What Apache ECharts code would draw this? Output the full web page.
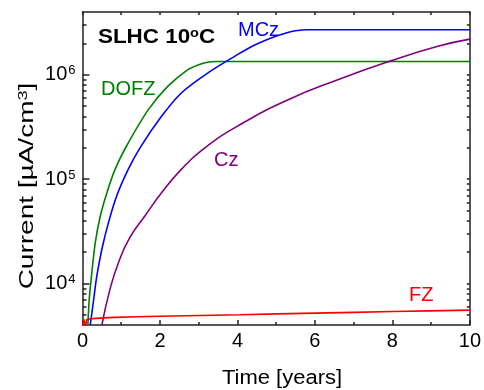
<!DOCTYPE html>
<html>
<head>
<meta charset="utf-8">
<script src="https://cdn.jsdelivr.net/npm/echarts@6/dist/echarts.min.js"></script>
<style>
  html, body {margin: 0; padding: 0; background: #fff;}
  #chart {width: 484px; height: 390px;}
</style>
</head>
<body>
<div id="chart"></div>
<script>
// time [years], current [uA/cm3]
const dofz = [
  [0.14, 4080], [0.174, 7100], [0.24, 12600], [0.33, 24700], [0.46, 44300],
  [0.63, 74000], [0.84, 124000], [1.14, 209000], [1.7, 464000], [2.2, 774000],
  [2.72, 1120000], [3.0, 1250000], [3.23, 1320000], [3.45, 1340000], [4.0, 1340000],
  [10, 1340000]
];
const mcz = [
  [0.2, 4000], [0.29, 7100], [0.37, 11800], [0.5, 21300], [0.67, 38300],
  [0.88, 68700], [1.18, 124000], [1.5, 204000], [2.04, 400000], [2.55, 670000],
  [3.23, 1040000], [4.0, 1560000], [4.46, 1940000], [4.97, 2330000], [5.3, 2550000],
  [5.55, 2660000], [5.8, 2700000], [6.3, 2700000], [10, 2700000]
];
const cz = [
  [0.5, 4000], [0.71, 8830], [0.93, 15900], [1.22, 27500], [1.61, 44300],
  [2.04, 74100], [2.55, 124000], [3.1, 192000], [4.05, 330000], [5.31, 577000],
  [6.59, 897000], [7.96, 1360000], [9.15, 1870000], [10, 2200000]
];
const fz = [
  [0.01, 3900], [0.03, 4550], [0.08, 3950], [0.11, 4500], [0.17, 4550],
  [0.33, 4630], [0.84, 4730], [2, 4850], [4.05, 5020], [6, 5200], [8, 5380], [10, 5560]
];
const majorTicks = [1e4, 1e5, 1e6];
const minorTicks = [5000, 6000, 7000, 8000, 9000,
  20000, 30000, 40000, 50000, 60000, 70000, 80000, 90000,
  200000, 300000, 400000, 500000, 600000, 700000, 800000, 900000,
  2000000, 3000000];
const yMin = 4000, yMax = 4e6;

// the y axis is drawn as log10 of the current
const lg = Math.log10;
const toLog = arr => arr.map(p => [p[0], lg(p[1])]);

const FONT = 'Liberation Sans';
const AXIS = {color: '#222', width: 1.5};

const chart = echarts.init(document.getElementById('chart'));

const line = (name, data, color, smooth) => ({
  name, type: 'line', data: toLog(data), showSymbol: false, smooth: smooth,
  lineStyle: {color, width: 1.6}, itemStyle: {color}, clip: true, z: 3
});

const yBase = {
  type: 'value', min: lg(yMin), max: lg(yMax),
  axisLabel: {show: false}, splitLine: {show: false}
};

chart.setOption({
  animation: false,
  grid: {left: 82.5, right: 11, top: 12, bottom: 65},
  xAxis: [{
    type: 'value', position: 'bottom', min: 0, max: 10, interval: 2,
    axisLine: {lineStyle: AXIS},
    axisTick: {inside: true, length: 5, lineStyle: AXIS},
    minorTick: {show: true, splitNumber: 2, length: 3, lineStyle: AXIS},
    axisLabel: {fontFamily: FONT, fontSize: 20, color: '#000', margin: 6},
    splitLine: {show: false}
  }, {
    type: 'value', position: 'top', min: 0, max: 10, interval: 1,
    axisLine: {lineStyle: AXIS},
    axisTick: {inside: true, length: 3, lineStyle: AXIS},
    axisLabel: {show: false}, splitLine: {show: false}
  }],
  yAxis: [Object.assign({}, yBase, {
    position: 'left',
    axisLine: {show: true, lineStyle: AXIS},
    axisTick: {inside: true, length: 7, lineStyle: AXIS, customValues: majorTicks.map(lg)},
    axisLabel: {
      show: true, fontFamily: FONT, color: '#000', margin: 7, customValues: majorTicks.map(lg),
      formatter: v => '{b|10}{s|' + Math.round(v) + '}',
      rich: {
        b: {fontFamily: FONT, fontSize: 20, color: '#000'},
        s: {fontFamily: FONT, fontSize: 13, color: '#000', verticalAlign: 'top', padding: [0, 0, 8, 1]}
      }
    }
  }), Object.assign({}, yBase, {
    position: 'left',
    axisLine: {show: false},
    axisTick: {inside: true, length: 4, lineStyle: AXIS, customValues: minorTicks.map(lg)}
  }), Object.assign({}, yBase, {
    position: 'right',
    axisLine: {show: true, lineStyle: AXIS},
    axisTick: {inside: true, length: 3, lineStyle: AXIS, customValues: majorTicks.concat(minorTicks).map(lg)}
  })],
  series: [
    line('DOFZ', dofz, '#008000', 0.3),
    line('MCz', mcz, '#0000ff', 0.3),
    line('Cz', cz, '#800080', 0.5),
    line('FZ', fz, '#ff0000', 0.2)
  ],
  graphic: [
    {type: 'text', x: 98, y: 27, scaleX: 1.12, style: {
      text: '{t|SLHC 10}{s|o}{t|C}',
      rich: {
        t: {fontFamily: FONT, fontSize: 20, fontWeight: 'bold', fill: '#000'},
        s: {fontFamily: FONT, fontSize: 13, fontWeight: 'bold', fill: '#000', verticalAlign: 'top', padding: [0, 0, 8, 0]}
      }
    }},
    {type: 'text', x: 238, y: 20, style: {text: 'MCz', font: '20px "Liberation Sans"', fill: '#0000ff'}},
    {type: 'text', x: 101, y: 79, style: {text: 'DOFZ', font: '20px "Liberation Sans"', fill: '#008000'}},
    {type: 'text', x: 214, y: 150, style: {text: 'Cz', font: '20px "Liberation Sans"', fill: '#800080'}},
    {type: 'text', x: 409, y: 285, style: {text: 'FZ', font: '20px "Liberation Sans"', fill: '#ff0000'}},
    // axis titles
    {type: 'text', x: 282, y: 378, scaleX: 1.1, style: {
      text: 'Time [years]', font: '20px "Liberation Sans"', fill: '#000',
      align: 'center', verticalAlign: 'middle'
    }},
    {type: 'text', x: 27, y: 186, rotation: Math.PI / 2, scaleX: 1.4, style: {
      text: '{t|Current [µA/cm}{s|3}{t|]}',
      align: 'center', verticalAlign: 'middle',
      rich: {
        t: {fontFamily: FONT, fontSize: 20, fill: '#000'},
        s: {fontFamily: FONT, fontSize: 13, fill: '#000', verticalAlign: 'top', padding: [0, 0, 8, 0]}
      }
    }}
  ]
});
</script>
</body>
</html>
